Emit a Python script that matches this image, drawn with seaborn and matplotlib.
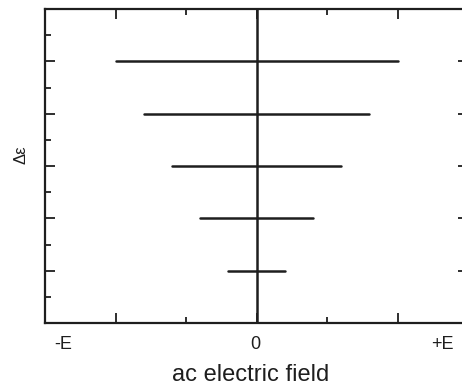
import matplotlib
matplotlib.use("Agg")
import matplotlib.pyplot as plt
import seaborn as sns
import pandas as pd
from matplotlib.ticker import MultipleLocator, NullFormatter

# data
levels = [1, 2, 3, 4, 5]
half_widths = [0.2, 0.4, 0.6, 0.8, 1.0]
x_tick_labels = ["-E", "0", "+E"]
x_label_pos = [-1.37, -0.01, 1.32]

sns.set_theme(style="ticks")
plt.rcParams['font.family'] = ['Liberation Sans', 'DejaVu Sans']

rows = []
for lv, hw in zip(levels, half_widths):
    rows.append({"x": -hw, "y": lv, "level": lv})
    rows.append({"x": hw, "y": lv, "level": lv})
df = pd.DataFrame(rows)

W, H = 462, 389
fig = plt.figure(figsize=(W / 100, H / 100), dpi=100)
left, bottom = 45 / W, (H - 323) / H
width, height = 423.0 / W, (323 - 9) / H
ax = fig.add_axes([left, bottom, width, height])

col = "#1e1e1e"
sns.lineplot(data=df, x="x", y="y", units="level", estimator=None, sort=False,
             color=col, linewidth=1.8, ax=ax, legend=False)
ax.axvline(0, color=col, linewidth=1.8)

ax.set_xlim(-1.5, 1.5)
ax.set_ylim(0, 6)
ax.xaxis.set_major_locator(MultipleLocator(1))
ax.xaxis.set_minor_locator(MultipleLocator(0.5))
ax.yaxis.set_major_locator(MultipleLocator(1))
ax.yaxis.set_minor_locator(MultipleLocator(0.5))
ax.xaxis.set_major_formatter(NullFormatter())
ax.yaxis.set_major_formatter(NullFormatter())
ax.tick_params(which="both", direction="in", top=True, right=True, color=col, width=1.3)
ax.tick_params(which="major", length=7)
ax.tick_params(which="minor", length=4)
for s in ax.spines.values():
    s.set_color(col)
    s.set_linewidth(1.6)
    s.set_visible(True)

for lab, xp in zip(x_tick_labels, x_label_pos):
    ax.text(xp, -0.25, lab, ha="center", va="top", fontsize=13, color=col,
            transform=ax.transData, clip_on=False)

ax.set_xlabel("ac electric field", fontsize=17, color=col)
ax.xaxis.set_label_coords(0.487, -0.132)
ax.set_ylabel("Δε", fontsize=12, color=col)
ax.yaxis.set_label_coords(-0.04, 0.535)

fig.savefig("out.png", dpi=100)
